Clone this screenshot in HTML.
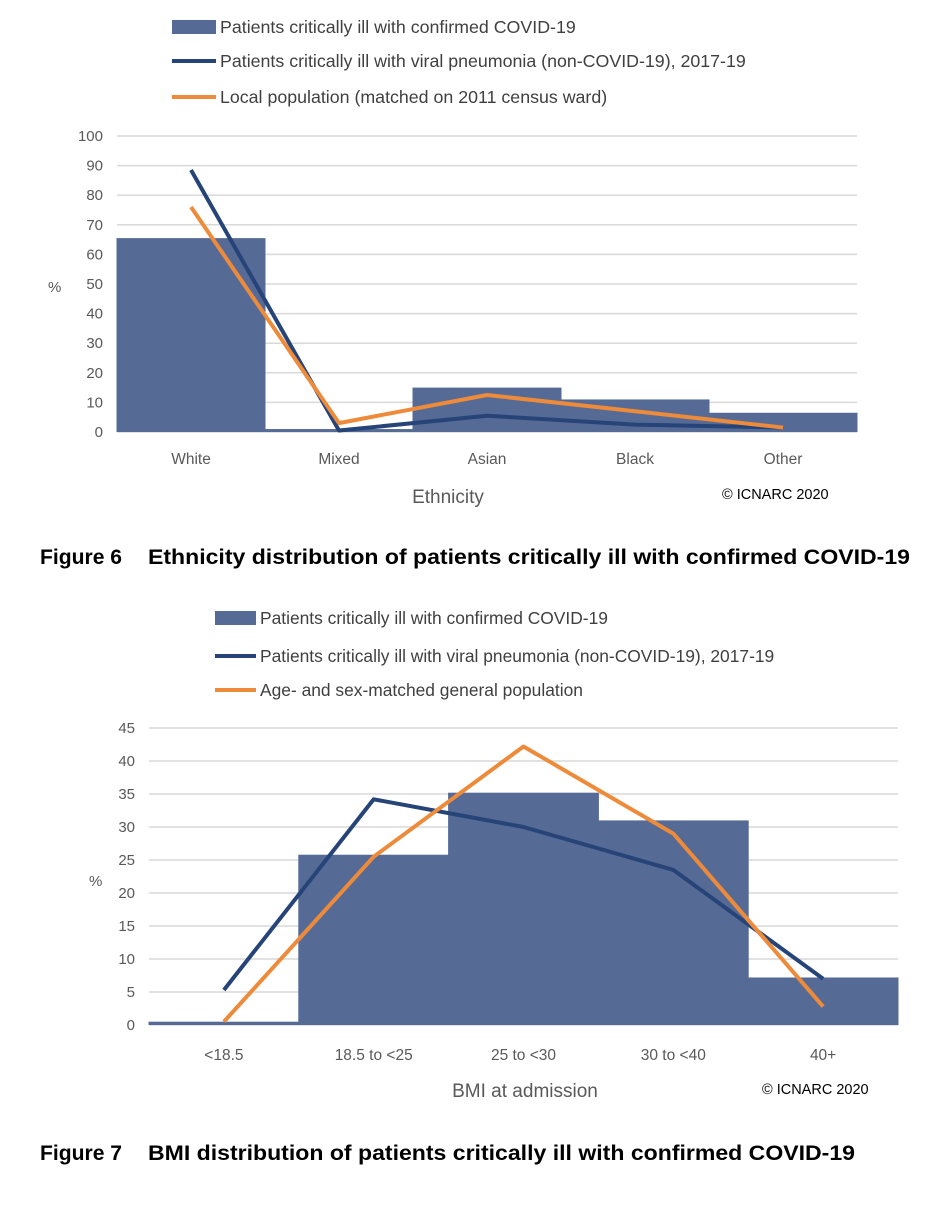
<!DOCTYPE html>
<html><head><meta charset="utf-8"><style>
body{margin:0;background:#fff;width:946px;height:1200px;overflow:hidden;font-family:"Liberation Sans",sans-serif}
svg text{font-family:"Liberation Sans",sans-serif}
</style></head><body>
<svg id="s" width="946" height="1200">
<g id="c1"></g>
<g id="c2"></g>
<text x="40" y="564" font-size="21" font-weight="bold" fill="#000" textLength="82" lengthAdjust="spacingAndGlyphs">Figure 6</text>
<text x="148" y="564" font-size="21" font-weight="bold" fill="#000" textLength="762" lengthAdjust="spacingAndGlyphs">Ethnicity distribution of patients critically ill with confirmed COVID-19</text>
<text x="40" y="1160" font-size="21" font-weight="bold" fill="#000" textLength="82" lengthAdjust="spacingAndGlyphs">Figure 7</text>
<text x="148" y="1160" font-size="21" font-weight="bold" fill="#000" textLength="707" lengthAdjust="spacingAndGlyphs">BMI distribution of patients critically ill with confirmed COVID-19</text>
</svg>
<script>
const ethCats=["White","Mixed","Asian","Black","Other"];
const ethBars=[65.5,1,15,11,6.5];
const ethViral=[88.5,0.5,5.5,2.5,1.5];
const ethLocal=[76,3,12.5,7,1.5];
const ethTicks=[0,10,20,30,40,50,60,70,80,90,100];
const bmiCats=["<18.5","18.5 to <25","25 to <30","30 to <40","40+"];
const bmiBars=[0.5,25.8,35.2,31,7.2];
const bmiViral=[5.3,34.2,30,23.5,7];
const bmiGen=[0.5,25.5,42.2,29,2.8];
const bmiTicks=[0,5,10,15,20,25,30,35,40,45];
const NS="http://www.w3.org/2000/svg";
function mk(p,t,a,txt){const e=document.createElementNS(NS,t);for(const k in a)e.setAttribute(k,a[k]);if(txt!=null)e.textContent=txt;p.appendChild(e);return e;}
function chart(g,o){
  const x0=o.x0,x1=o.x1,yT=o.yT,yB=o.yB,max=o.max,n=o.cats.length,cw=(x1-x0)/n;
  const y=v=>yB-(v/max)*(yB-yT);
  const xc=i=>x0+cw*(i+0.5);
  o.ticks.forEach(t=>{
    const l=mk(g,"line",{x1:x0,x2:x1,y1:y(t),y2:y(t),stroke:"#d9d9d9","stroke-width":1.5});
    
    
    const tx=mk(g,"text",{x:x0-14,y:y(t)+5,"font-size":15,fill:"#595959","text-anchor":"end"},t);
    
    
  });
  o.bars.forEach((v,i)=>{
    const r=mk(g,"rect",{x:x0+cw*i-0.5,y:y(v),width:cw+1,height:yB-y(v),fill:"#566a96"});
    
    
  });
  const line=(d,c,nm)=>{const p=mk(g,"polyline",{points:d.map((v,i)=>xc(i)+","+y(v)).join(" "),fill:"none",stroke:c,"stroke-width":4,"stroke-linejoin":"round"});
    
    };
  line(o.l1,"#264478","line-viral-pneumonia");
  line(o.l2,"#ed8b3a","line-"+o.l2name);
  o.cats.forEach((c,i)=>{const t=mk(g,"text",{x:xc(i),y:o.catY,"font-size":15.5,fill:"#595959","text-anchor":"middle"},c);
    
    });
  const yt=mk(g,"text",{x:o.pctX,y:o.pctY,"font-size":15,fill:"#595959"},"%");
  
  
  const xt=mk(g,"text",{x:o.xtX,y:o.xtY,"font-size":19,fill:"#595959","text-anchor":"middle"},o.xt);
  
  
  const cp=mk(g,"text",{x:o.cpX,y:o.cpY,"font-size":14.5,fill:"#000"},"© ICNARC 2020");
  
  
  o.leg.forEach((L,i)=>{
    const ly=o.legY[i];
    const sw=i==0?mk(g,"rect",{x:o.lx,y:ly-7,width:o.lw,height:14,fill:"#566a96"}):mk(g,"line",{x1:o.lx,x2:o.lx+o.lw,y1:ly,y2:ly,stroke:i==1?"#264478":"#ed8b3a","stroke-width":4});
    
    
    const t=mk(g,"text",{x:o.lx+o.lw+4,y:ly+6,"font-size":o.lf,fill:"#404040"},L);
    
    
  });
}
chart(document.getElementById("c1"),{x0:117,x1:857,yT:136,yB:432,max:100,cats:ethCats,bars:ethBars,l1:ethViral,l2:ethLocal,l2name:"local-population",ticks:ethTicks,catY:464,pctX:48,pctY:292,xt:"Ethnicity",xtX:448,xtY:503,cpX:722,cpY:499,lf:17.8,
 leg:["Patients critically ill with confirmed COVID-19","Patients critically ill with viral pneumonia (non-COVID-19), 2017-19","Local population (matched on 2011 census ward)"],legY:[27,61,97],lx:172,lw:44});
chart(document.getElementById("c2"),{x0:149,x1:898,yT:728,yB:1025,max:45,cats:bmiCats,bars:bmiBars,l1:bmiViral,l2:bmiGen,l2name:"general-population",ticks:bmiTicks,catY:1060,pctX:89,pctY:886,xt:"BMI at admission",xtX:525,xtY:1097,cpX:762,cpY:1094,lf:17.4,
 leg:["Patients critically ill with confirmed COVID-19","Patients critically ill with viral pneumonia (non-COVID-19), 2017-19","Age- and sex-matched general population"],legY:[618,656,690],lx:215,lw:41});
</script>
</body></html>
